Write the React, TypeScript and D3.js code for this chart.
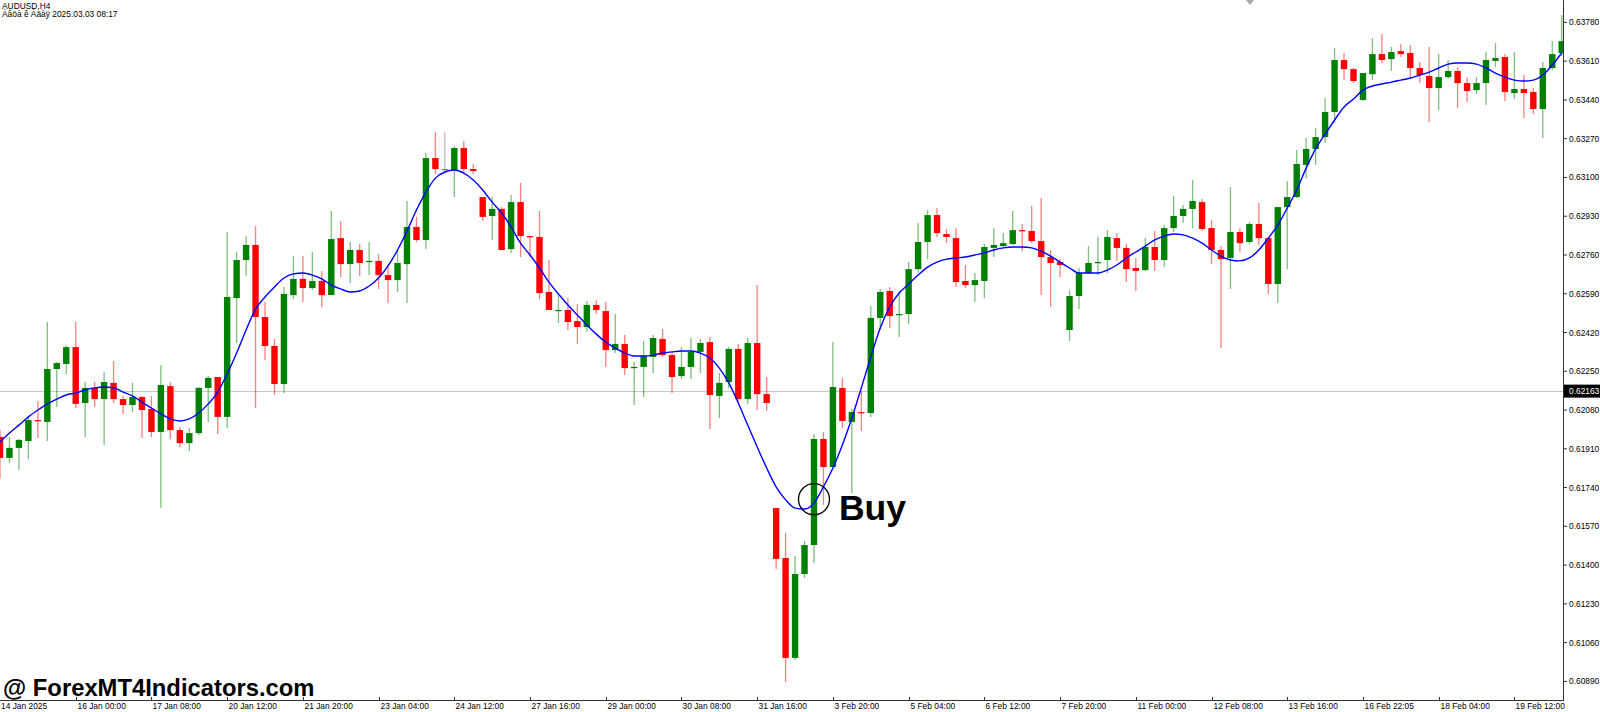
import * as d3 from 'd3';

// chart header, as printed by the terminal
const symbolTitle = 'AUDUSD,H4';
const subTitle = 'Àâöà ê Àäàÿ 2025.03.03 08:17';
const watermark = '@ ForexMT4Indicators.com';

// H4 bars, oldest first
const open = [
  0.61962, 0.61870, 0.61914, 0.61944, 0.62036, 0.62028, 0.62260, 0.62282, 0.62356, 0.62111,
  0.62177, 0.62128, 0.62199, 0.62128, 0.62102, 0.62137, 0.62085, 0.61984, 0.62185, 0.61992,
  0.61935, 0.61979, 0.62177, 0.62225, 0.62050, 0.62571, 0.62738, 0.62804, 0.62488, 0.62361,
  0.62194, 0.62584, 0.62655, 0.62615, 0.62646, 0.62584, 0.62834, 0.62720, 0.62782, 0.62729,
  0.62734, 0.62672, 0.62650, 0.62720, 0.62883, 0.62826, 0.63185, 0.63137, 0.63133, 0.63229,
  0.63137, 0.63014, 0.62931, 0.62962, 0.62786, 0.62992, 0.62843, 0.62839, 0.62598, 0.62514,
  0.62519, 0.62470, 0.62444, 0.62541, 0.62514, 0.62343, 0.62370, 0.62264, 0.62269, 0.62313,
  0.62392, 0.62321, 0.62229, 0.62269, 0.62335, 0.62378, 0.62142, 0.62203, 0.62348, 0.62128,
  0.62374, 0.62150, 0.61650, 0.61431, 0.60993, 0.61361, 0.61488, 0.61953, 0.61830, 0.62177,
  0.62028, 0.62071, 0.62067, 0.62484, 0.62602, 0.62497, 0.62501, 0.62698, 0.62817, 0.62935,
  0.62852, 0.62834, 0.62646, 0.62628, 0.62646, 0.62791, 0.62799, 0.62808, 0.62869, 0.62865,
  0.62821, 0.62751, 0.62729, 0.62431, 0.62580, 0.62681, 0.62725, 0.62738, 0.62834, 0.62791,
  0.62703, 0.62694, 0.62795, 0.62738, 0.62878, 0.62931, 0.62962, 0.62992, 0.62878, 0.62782,
  0.62747, 0.62861, 0.62817, 0.62896, 0.62834, 0.62633, 0.62970, 0.63014, 0.63155, 0.63225,
  0.63277, 0.63387, 0.63615, 0.63575, 0.63440, 0.63553, 0.63641, 0.63619, 0.63654, 0.63646,
  0.63580, 0.63545, 0.63492, 0.63540, 0.63567, 0.63514, 0.63483, 0.63514, 0.63611, 0.63628,
  0.63470, 0.63488, 0.63475, 0.63400, 0.63580, 0.63646,
];
const high = [
  0.61992, 0.61962, 0.61953, 0.62050, 0.62120, 0.62466, 0.62291, 0.62365, 0.62466, 0.62203,
  0.62203, 0.62247, 0.62295, 0.62142, 0.62199, 0.62142, 0.62142, 0.62278, 0.62203, 0.62006,
  0.62001, 0.62181, 0.62229, 0.62225, 0.62861, 0.62773, 0.62843, 0.62887, 0.62554, 0.62392,
  0.62620, 0.62755, 0.62755, 0.62773, 0.62690, 0.62953, 0.62909, 0.62817, 0.62808, 0.62817,
  0.62764, 0.62720, 0.62786, 0.62997, 0.62927, 0.63207, 0.63299, 0.63299, 0.63238, 0.63260,
  0.63159, 0.63014, 0.63014, 0.62970, 0.63023, 0.63076, 0.62843, 0.62953, 0.62738, 0.62584,
  0.62571, 0.62545, 0.62558, 0.62563, 0.62554, 0.62501, 0.62409, 0.62291, 0.62383, 0.62409,
  0.62435, 0.62335, 0.62356, 0.62396, 0.62392, 0.62400, 0.62242, 0.62356, 0.62370, 0.62396,
  0.62628, 0.62225, 0.61650, 0.61541, 0.61440, 0.61506, 0.61975, 0.61984, 0.62378, 0.62221,
  0.62085, 0.62164, 0.62536, 0.62611, 0.62620, 0.62602, 0.62729, 0.62900, 0.62957, 0.62966,
  0.62874, 0.62878, 0.62716, 0.62681, 0.62808, 0.62878, 0.62856, 0.62953, 0.62896, 0.62975,
  0.63010, 0.62782, 0.62742, 0.62606, 0.62703, 0.62799, 0.62839, 0.62869, 0.62856, 0.62808,
  0.62747, 0.62834, 0.62865, 0.62891, 0.63019, 0.62979, 0.63089, 0.63005, 0.62913, 0.62799,
  0.63058, 0.62878, 0.62905, 0.62988, 0.62834, 0.62970, 0.63084, 0.63220, 0.63273, 0.63317,
  0.63448, 0.63668, 0.63646, 0.63580, 0.63558, 0.63711, 0.63729, 0.63672, 0.63685, 0.63681,
  0.63606, 0.63672, 0.63641, 0.63615, 0.63584, 0.63540, 0.63540, 0.63650, 0.63689, 0.63641,
  0.63650, 0.63549, 0.63492, 0.63606, 0.63698, 0.63812,
];
const low = [
  0.61778, 0.61848, 0.61817, 0.61865, 0.61957, 0.61944, 0.62093, 0.62238, 0.62089, 0.61962,
  0.62093, 0.61927, 0.62111, 0.62063, 0.62071, 0.61957, 0.61962, 0.61650, 0.61953, 0.61918,
  0.61900, 0.61971, 0.62028, 0.61975, 0.62001, 0.62374, 0.62668, 0.62089, 0.62299, 0.62146,
  0.62155, 0.62567, 0.62554, 0.62606, 0.62532, 0.62584, 0.62663, 0.62637, 0.62668, 0.62672,
  0.62611, 0.62549, 0.62598, 0.62549, 0.62817, 0.62786, 0.63115, 0.63119, 0.63014, 0.63115,
  0.63115, 0.62909, 0.62826, 0.62782, 0.62769, 0.62751, 0.62751, 0.62567, 0.62519, 0.62462,
  0.62431, 0.62370, 0.62422, 0.62501, 0.62269, 0.62330, 0.62234, 0.62102, 0.62137, 0.62242,
  0.62313, 0.62155, 0.62216, 0.62216, 0.62242, 0.61997, 0.62045, 0.62177, 0.62111, 0.62107,
  0.62080, 0.62076, 0.61383, 0.60887, 0.60984, 0.61344, 0.61409, 0.61664, 0.61830, 0.62001,
  0.61716, 0.61988, 0.62050, 0.62435, 0.62440, 0.62400, 0.62457, 0.62681, 0.62742, 0.62839,
  0.62812, 0.62620, 0.62615, 0.62554, 0.62571, 0.62751, 0.62795, 0.62804, 0.62777, 0.62812,
  0.62584, 0.62532, 0.62663, 0.62383, 0.62523, 0.62677, 0.62672, 0.62681, 0.62734, 0.62641,
  0.62602, 0.62690, 0.62690, 0.62707, 0.62861, 0.62900, 0.62878, 0.62865, 0.62720, 0.62352,
  0.62611, 0.62773, 0.62808, 0.62804, 0.62589, 0.62549, 0.62698, 0.63010, 0.63097, 0.63155,
  0.63251, 0.63339, 0.63527, 0.63514, 0.63435, 0.63527, 0.63602, 0.63567, 0.63628, 0.63540,
  0.63514, 0.63343, 0.63396, 0.63532, 0.63404, 0.63431, 0.63466, 0.63418, 0.63584, 0.63435,
  0.63444, 0.63361, 0.63378, 0.63273, 0.63571, 0.63632,
];
const close = [
  0.61870, 0.61914, 0.61949, 0.62036, 0.62032, 0.62260, 0.62286, 0.62356, 0.62107, 0.62177,
  0.62128, 0.62203, 0.62128, 0.62102, 0.62137, 0.62080, 0.61984, 0.62190, 0.61992, 0.61935,
  0.61979, 0.62177, 0.62221, 0.62050, 0.62576, 0.62738, 0.62804, 0.62488, 0.62361, 0.62194,
  0.62589, 0.62655, 0.62615, 0.62646, 0.62584, 0.62830, 0.62720, 0.62782, 0.62725, 0.62734,
  0.62672, 0.62650, 0.62725, 0.62883, 0.62826, 0.63185, 0.63137, 0.63137, 0.63229, 0.63137,
  0.63128, 0.62927, 0.62962, 0.62782, 0.62992, 0.62843, 0.62839, 0.62593, 0.62519, 0.62519,
  0.62466, 0.62444, 0.62541, 0.62519, 0.62343, 0.62370, 0.62264, 0.62269, 0.62317, 0.62396,
  0.62321, 0.62225, 0.62269, 0.62335, 0.62374, 0.62146, 0.62199, 0.62348, 0.62128, 0.62374,
  0.62150, 0.62111, 0.61427, 0.60993, 0.61361, 0.61488, 0.61953, 0.61830, 0.62181, 0.62032,
  0.62071, 0.62067, 0.62484, 0.62598, 0.62492, 0.62501, 0.62698, 0.62817, 0.62935, 0.62856,
  0.62839, 0.62641, 0.62628, 0.62650, 0.62795, 0.62804, 0.62812, 0.62869, 0.62865, 0.62821,
  0.62751, 0.62725, 0.62716, 0.62580, 0.62681, 0.62725, 0.62729, 0.62839, 0.62791, 0.62698,
  0.62690, 0.62795, 0.62738, 0.62878, 0.62931, 0.62962, 0.62997, 0.62874, 0.62782, 0.62742,
  0.62861, 0.62812, 0.62896, 0.62834, 0.62633, 0.62970, 0.63014, 0.63159, 0.63225, 0.63277,
  0.63387, 0.63615, 0.63575, 0.63523, 0.63558, 0.63641, 0.63615, 0.63650, 0.63641, 0.63580,
  0.63549, 0.63492, 0.63540, 0.63567, 0.63514, 0.63479, 0.63514, 0.63615, 0.63624, 0.63475,
  0.63488, 0.63470, 0.63400, 0.63580, 0.63641, 0.63698,
];
// the blue smoothing line, one value per bar
const maLine = [
  0.61940, 0.61979, 0.62014, 0.62050, 0.62080, 0.62107, 0.62128, 0.62146, 0.62155, 0.62168,
  0.62177, 0.62181, 0.62177, 0.62159, 0.62142, 0.62115, 0.62089, 0.62063, 0.62041, 0.62032,
  0.62041, 0.62067, 0.62107, 0.62159, 0.62238, 0.62330, 0.62431, 0.62523, 0.62576, 0.62620,
  0.62659, 0.62677, 0.62681, 0.62672, 0.62655, 0.62628, 0.62611, 0.62598, 0.62602, 0.62624,
  0.62659, 0.62712, 0.62782, 0.62865, 0.62957, 0.63036, 0.63097, 0.63124, 0.63133, 0.63119,
  0.63089, 0.63045, 0.62992, 0.62944, 0.62883, 0.62812, 0.62760, 0.62703, 0.62641, 0.62589,
  0.62541, 0.62497, 0.62453, 0.62413, 0.62378, 0.62352, 0.62330, 0.62317, 0.62317, 0.62321,
  0.62330, 0.62335, 0.62339, 0.62339, 0.62330, 0.62308, 0.62264, 0.62199, 0.62111, 0.62014,
  0.61918, 0.61826, 0.61743, 0.61686, 0.61650, 0.61646, 0.61672, 0.61743, 0.61826, 0.61927,
  0.62045, 0.62177, 0.62313, 0.62440, 0.62532, 0.62593, 0.62633, 0.62672, 0.62707, 0.62729,
  0.62742, 0.62747, 0.62751, 0.62760, 0.62769, 0.62782, 0.62791, 0.62795, 0.62795, 0.62791,
  0.62777, 0.62755, 0.62729, 0.62703, 0.62681, 0.62681, 0.62681, 0.62694, 0.62716, 0.62747,
  0.62773, 0.62799, 0.62826, 0.62843, 0.62852, 0.62848, 0.62834, 0.62812, 0.62782, 0.62755,
  0.62738, 0.62734, 0.62747, 0.62782, 0.62834, 0.62891, 0.62966, 0.63045, 0.63141, 0.63225,
  0.63290, 0.63352, 0.63409, 0.63444, 0.63483, 0.63501, 0.63510, 0.63518, 0.63527, 0.63536,
  0.63549, 0.63562, 0.63580, 0.63597, 0.63602, 0.63602, 0.63597, 0.63580, 0.63558, 0.63540,
  0.63527, 0.63523, 0.63527, 0.63549, 0.63593, 0.63646,
];

const priceTicks = [
  0.6378, 0.6361, 0.6344, 0.6327, 0.631, 0.6293, 0.6276, 0.6259, 0.6242,
  0.6225, 0.6208, 0.6191, 0.6174, 0.6157, 0.614, 0.6123, 0.6106, 0.6089,
];
const firstDateLabel = '14 Jan 2025';
// one label every 8 bars, starting at bar 8
const dateLabels = [
  '16 Jan 00:00', '17 Jan 08:00', '20 Jan 12:00', '21 Jan 20:00', '23 Jan 04:00',
  '24 Jan 12:00', '27 Jan 16:00', '29 Jan 00:00', '30 Jan 08:00', '31 Jan 16:00',
  '3 Feb 20:00', '5 Feb 04:00', '6 Feb 12:00', '7 Feb 20:00', '11 Feb 00:00',
  '12 Feb 08:00', '13 Feb 16:00', '16 Feb 22:05', '18 Feb 04:00', '19 Feb 12:00',
];
const labelEvery = 8;
const hLinePrice = 0.62163;
const buyBar = 86;
const buyPrice = 0.61689;
const buyText = 'Buy';

const W = 1600;
const H = 712;
const plotRight = 1564;
const plotBottom = 700;
const barStep = 9.465;
const bodyW = 6.4;

const UP = '#008000';
const DOWN = '#ff0000';
const FLAT = '#7a7a7a';
const axisFont = '"Liberation Sans", Arial, sans-serif';

export default function App() {
  const n = open.length;
  const x = d3.scaleLinear().domain([0, n - 1]).range([0, (n - 1) * barStep]);
  const y = d3.scaleLinear().domain([0.6089, 0.6378]).range([681.4, 22.4]);

  const ma = d3
    .line<number>()
    .x((_, i) => x(i))
    .y((d) => y(d))
    .curve(d3.curveMonotoneX);

  const fmt = d3.format('.5f');

  return (
    <svg
      width={W}
      height={H}
      style={{ position: 'absolute', left: 0, top: 0, background: '#fff' }}
    >
      <defs>
        <clipPath id="plot">
          <rect x={0} y={0} width={plotRight} height={plotBottom} />
        </clipPath>
      </defs>
      <rect width={W} height={H} fill="#fff" />

      <g clipPath="url(#plot)">
        <line
          x1={0}
          x2={plotRight}
          y1={Math.round(y(hLinePrice)) + 0.5}
          y2={Math.round(y(hLinePrice)) + 0.5}
          stroke="#c8c8c8"
          strokeWidth={1}
        />
        {open.map((o, i) => {
          const c = close[i];
          const col = c > o ? UP : c < o ? DOWN : FLAT;
          const top = y(Math.max(o, c));
          const h = Math.max(1.2, Math.abs(y(o) - y(c)));
          const cx = x(i);
          return (
            <g key={i}>
              <line
                x1={cx}
                x2={cx}
                y1={y(high[i])}
                y2={y(low[i])}
                stroke={col}
                strokeOpacity={0.5}
                strokeWidth={1.3}
              />
              <rect x={cx - bodyW / 2} y={top} width={bodyW} height={h} fill={col} />
            </g>
          );
        })}
        <path d={ma(maLine) ?? ''} fill="none" stroke="#0000ff" strokeWidth={1.4} />
      </g>

      {/* signal marker */}
      <circle
        cx={x(buyBar)}
        cy={y(buyPrice)}
        r={15.5}
        fill="none"
        stroke="#000"
        strokeWidth={1.3}
      />
      <text
        x={x(buyBar) + 25}
        y={y(buyPrice) + 21}
        fontFamily='"Liberation Sans", Arial, sans-serif'
        fontWeight="bold"
        fontSize={35.5}
        fill="#000"
      >
        {buyText}
      </text>

      {/* axes frame */}
      <line x1={plotRight - 0.5} x2={plotRight - 0.5} y1={0} y2={plotBottom + 1} stroke="#333" />
      <line x1={0} x2={plotRight} y1={plotBottom + 0.5} y2={plotBottom + 0.5} stroke="#333" />

      {priceTicks.map((p) => (
        <g key={p}>
          <line x1={plotRight} x2={plotRight + 3} y1={y(p)} y2={y(p)} stroke="#333" />
          <text x={plotRight + 5} y={y(p) + 3} fontFamily={axisFont} fontSize={8.4} fill="#000">
            {fmt(p)}
          </text>
        </g>
      ))}
      <rect x={plotRight} y={y(hLinePrice) - 6.5} width={W - plotRight} height={13} fill="#000" />
      <text
        x={plotRight + 5}
        y={y(hLinePrice) + 3}
        fontFamily={axisFont}
        fontSize={8.4}
        fill="#fff"
      >
        {fmt(hLinePrice)}
      </text>

      <text x={1} y={709} fontFamily={axisFont} fontSize={8.4} fill="#000">
        {firstDateLabel}
      </text>
      {dateLabels.map((d, j) => {
        const bx = Math.round(x((j + 1) * labelEvery)) + 0.5;
        return (
          <g key={d}>
            <line x1={bx} x2={bx} y1={plotBottom - 3} y2={plotBottom} stroke="#333" />
            <text x={bx + 1} y={709} fontFamily={axisFont} fontSize={8.4} fill="#000">
              {d}
            </text>
          </g>
        );
      })}

      {/* header and watermark */}
      <text x={2} y={8.5} fontFamily={axisFont} fontSize={8.4} fill="#000">
        {symbolTitle}
      </text>
      <text x={2} y={17} fontFamily={axisFont} fontSize={8.4} fill="#000">
        {subTitle}
      </text>
      <polygon points="1246,0 1254,0 1250,5" fill="#a8a8a8" />
      <text
        x={3}
        y={696}
        fontFamily='"Liberation Sans", Arial, sans-serif'
        fontWeight="bold"
        fontSize={23.8}
        fill="#000"
      >
        {watermark}
      </text>
    </svg>
  );
}
